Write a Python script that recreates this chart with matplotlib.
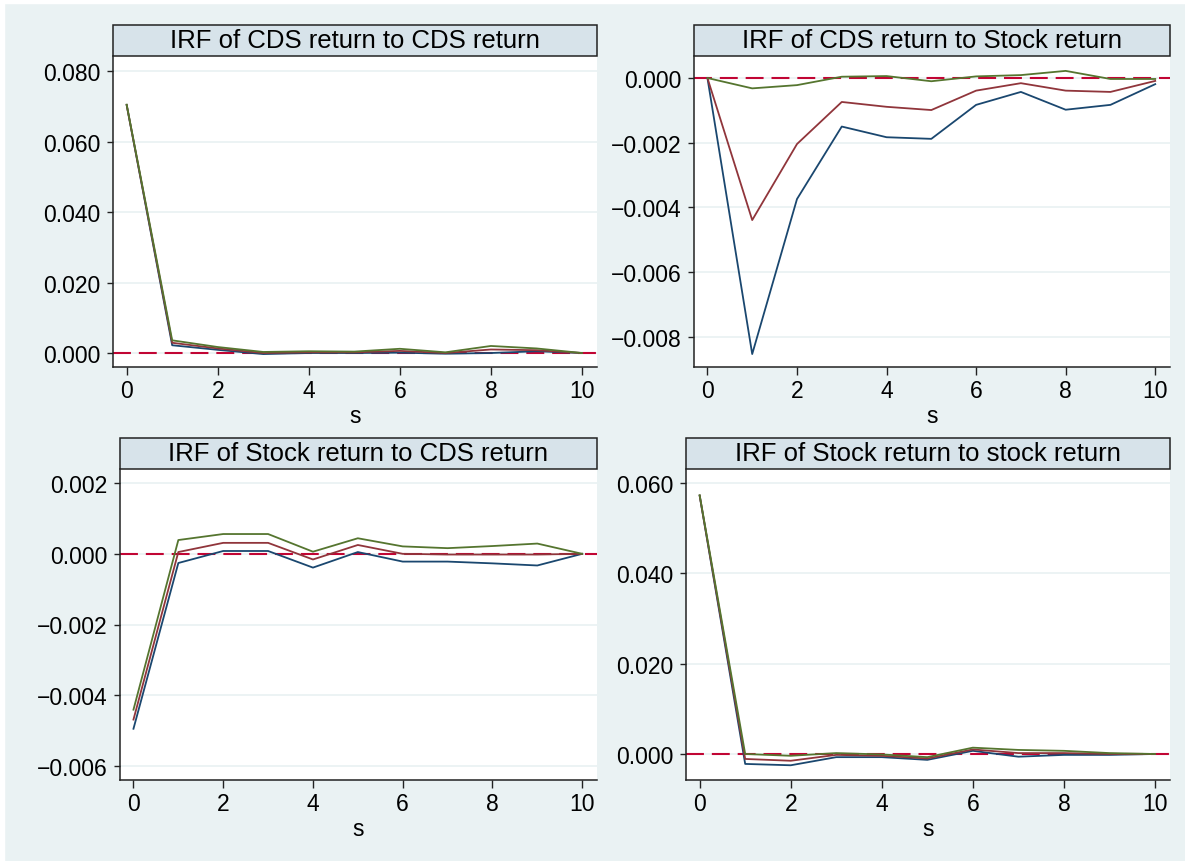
import matplotlib
matplotlib.use("Agg")
import matplotlib.pyplot as plt
from matplotlib.patches import Rectangle
import numpy as np

plt.rcParams["font.family"] = ["Liberation Sans", "DejaVu Sans"]

steps = list(range(11))

titles = [
    "IRF of CDS return to CDS return",
    "IRF of CDS return to Stock return",
    "IRF of Stock return to CDS return",
    "IRF of Stock return to stock return",
]

# lower bound, irf, upper bound for each panel
cds_cds_lo = [0.0704, 0.0022, 0.0009, -0.0003, 0.0000, 0.0000, 0.0001, -0.0002, 0.0000, 0.0005, 0.0]
cds_cds_irf = [0.0704, 0.0029, 0.0013, 0.0000, 0.0002, 0.0002, 0.0006, 0.0000, 0.0010, 0.0008, 0.0]
cds_cds_hi = [0.0705, 0.0036, 0.0017, 0.0003, 0.0005, 0.0004, 0.0012, 0.0002, 0.0020, 0.0013, 0.0]

cds_stk_lo = [0.0, -0.00853, -0.00374, -0.00150, -0.00183, -0.00188, -0.00083, -0.00043, -0.00098, -0.00083, -0.00019]
cds_stk_irf = [0.0, -0.00439, -0.00204, -0.00074, -0.00089, -0.00099, -0.00039, -0.00016, -0.00039, -0.00043, -0.00009]
cds_stk_hi = [0.0, -0.00032, -0.00022, 0.00004, 0.00006, -0.00010, 0.00005, 0.00009, 0.00022, -0.00003, -0.00003]

stk_cds_lo = [-0.00495, -0.00026, 0.00008, 0.00008, -0.00039, 0.00005, -0.00022, -0.00022, -0.00027, -0.00033, 0.0]
stk_cds_irf = [-0.00469, 0.00005, 0.00031, 0.00031, -0.00016, 0.00025, 0.0, -0.00002, -0.00002, -0.00002, 0.0]
stk_cds_hi = [-0.00441, 0.00039, 0.00056, 0.00056, 0.00006, 0.00044, 0.00021, 0.00016, 0.00022, 0.00029, 0.0]

stk_stk_lo = [0.0572, -0.0022, -0.0025, -0.0007, -0.0007, -0.0013, 0.0007, -0.0006, -0.0002, -0.0002, 0.0]
stk_stk_irf = [0.0572, -0.0011, -0.0015, -0.0002, -0.0004, -0.0010, 0.0010, 0.0002, 0.0002, 0.0000, 0.0]
stk_stk_hi = [0.0573, 0.0000, -0.0004, 0.0002, -0.0001, -0.0007, 0.0014, 0.0009, 0.0007, 0.0002, 0.0]

series = [
    (cds_cds_lo, cds_cds_irf, cds_cds_hi),
    (cds_stk_lo, cds_stk_irf, cds_stk_hi),
    (stk_cds_lo, stk_cds_irf, stk_cds_hi),
    (stk_stk_lo, stk_stk_irf, stk_stk_hi),
]

yticks = [
    [0.0, 0.02, 0.04, 0.06, 0.08],
    [-0.008, -0.006, -0.004, -0.002, 0.0],
    [-0.006, -0.004, -0.002, 0.0, 0.002],
    [0.0, 0.02, 0.04, 0.06],
]
ylims = [
    (-0.00397, 0.0843),
    (-0.00893, 0.00068),
    (-0.0064, 0.0024),
    (-0.00576, 0.0631),
]

# plot-region rectangles in pixels (left, top, right, bottom)
W, H = 1185, 862
boxes_px = [
    (113, 57, 597, 368),
    (694, 57, 1170, 368),
    (120, 470, 597, 781),
    (686, 470, 1170, 781),
]
title_h_px = 31

bg = "#eaf2f3"
navy = "#1a476f"
maroon = "#90353b"
green = "#55752f"
refred = "#c10534"

fig = plt.figure(figsize=(W / 100, H / 100), dpi=100, facecolor=bg)
# white frame at top/left edge
fig.patches.append(Rectangle((0, 1 - 4 / H), 1, 4 / H, transform=fig.transFigure,
                             color="white", zorder=-1))
fig.patches.append(Rectangle((0, 0), 4 / W, 1, transform=fig.transFigure,
                             color="white", zorder=-1))

for i in range(4):
    x0, y0, x1, y1 = boxes_px[i]
    ax = fig.add_axes([x0 / W, 1 - y1 / H, (x1 - x0) / W, (y1 - y0) / H])
    ax.set_facecolor("white")
    lo, irf, hi = series[i]

    ax.axhline(0, color=refred, lw=1.5, ls=(0, (8.6, 3.8)), zorder=2)
    ax.plot(steps, lo, color=navy, lw=1.3, zorder=3)
    ax.plot(steps, irf, color=maroon, lw=1.3, zorder=3)
    ax.plot(steps, hi, color=green, lw=1.3, zorder=3)

    ax.set_xlim(-0.3, 10.33)
    ax.set_ylim(*ylims[i])
    ax.set_xticks([0, 2, 4, 6, 8, 10])
    ax.set_yticks(yticks[i])
    ax.set_yticklabels([f"{v:.3f}".replace("-", "\u2212") for v in yticks[i]])
    ax.yaxis.grid(True, color=bg, lw=1.3, zorder=0)
    ax.set_axisbelow(True)

    for s in ["top", "right"]:
        ax.spines[s].set_visible(False)
    for s in ["left", "bottom"]:
        ax.spines[s].set_color("#222222")
        ax.spines[s].set_linewidth(1.1)
    ax.tick_params(axis="y", length=4, width=1, pad=5, labelsize=16.5, colors="#222222",
                   labelcolor="black")
    ax.tick_params(axis="x", length=6, width=1, pad=3, labelsize=16.5, colors="#222222",
                   labelcolor="black")
    ax.set_xlabel("s", fontsize=16.5, labelpad=1)

    # title strip
    hfrac = title_h_px / (y1 - y0)
    ax.add_patch(Rectangle((0, 1), 1, hfrac, transform=ax.transAxes, clip_on=False,
                           facecolor="#d7e3ea", edgecolor="#222222", lw=1.1))
    ax.text(0.5, 1 + hfrac / 2, titles[i], transform=ax.transAxes, ha="center",
            va="center", fontsize=18.5)

fig.savefig("out.png", dpi=100, facecolor=bg)
